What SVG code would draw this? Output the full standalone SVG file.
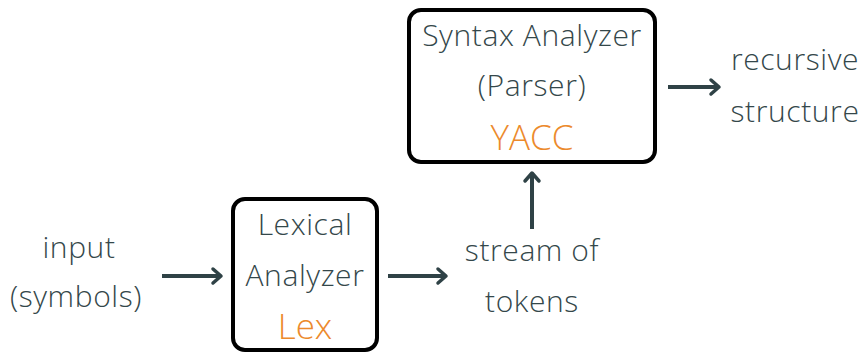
<svg xmlns="http://www.w3.org/2000/svg" width="863" height="353" viewBox="0 0 863 353">
<style>
text{font-family:"Open Sans","Lato","DejaVu Sans",sans-serif;font-weight:300;fill:#34474a;text-anchor:middle;font-size:30px;letter-spacing:0.6px}
text.o{fill:#ec8a2c;font-size:35px;letter-spacing:0}
.box{fill:#fff;stroke:#000;stroke-width:4}
.c line{stroke:#2f4246;stroke-width:4}
.c path{fill:none;stroke:#2f4246;stroke-width:3.5;stroke-linecap:round;stroke-linejoin:round}
</style>
<rect width="863" height="353" fill="#fff"/>
<g id="parser">
<rect class="box" x="409" y="10" width="246" height="152" rx="12"/>
<text x="532" y="46">Syntax Analyzer</text>
<text x="532" y="96">(Parser)</text>
<text class="o" x="532" y="150">YACC</text>
</g>
<g id="lexer">
<rect class="box" x="233" y="199" width="144" height="151" rx="12"/>
<text x="305" y="235">Lexical</text>
<text x="305" y="286">Analyzer</text>
<text class="o" x="305" y="339">Lex</text>
</g>
<g id="input">
<text x="79" y="258">input</text>
<text x="76" y="307">(symbols)</text>
</g>
<g id="tokens">
<text x="532" y="261">stream of</text>
<text x="532" y="312">tokens</text>
</g>
<g id="output">
<text x="795" y="70">recursive</text>
<text x="795" y="122">structure</text>
</g>
<g class="c" id="connectors">
<line x1="162" y1="276" x2="220" y2="276"/><path d="M213,269 L221,276 L213,283"/>
<line x1="388" y1="276" x2="445" y2="276"/><path d="M438,269 L446,276 L438,283"/>
<line x1="532" y1="229" x2="532" y2="174"/><path d="M525,181 L532,173 L539,181"/>
<line x1="668" y1="87" x2="718" y2="87"/><path d="M711,80 L719,87 L711,94"/>
</g>
</svg>
